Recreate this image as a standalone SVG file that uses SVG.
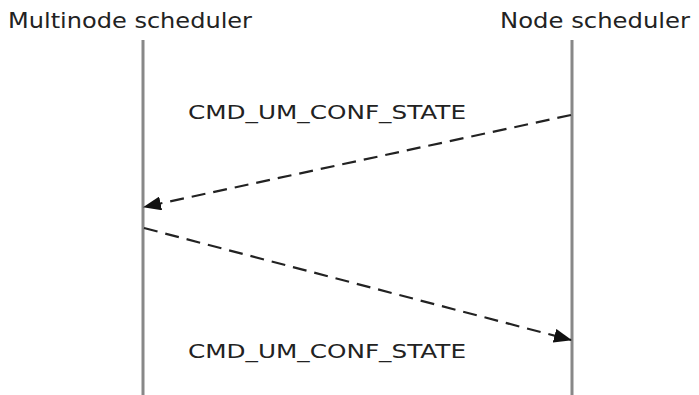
<svg xmlns="http://www.w3.org/2000/svg" width="699" height="395" viewBox="0 0 699 395">
  <defs>
    <marker id="arrow" markerWidth="18" markerHeight="14" refX="17" refY="7" orient="auto" markerUnits="userSpaceOnUse">
      <path d="M0,0 L18,7 L0,14 Z" fill="#111"/>
    </marker>
  </defs>
  <style>
    .label { font-family: "DejaVu Sans", Verdana, sans-serif; font-size: 21px; fill: #222; }
    .msg-label { font-size: 20px; }
    .lifeline { stroke: #888; stroke-width: 3; }
    .msg { stroke: #222; stroke-width: 2.2; stroke-dasharray: 14 8; fill: none; }
  </style>
  <rect width="699" height="395" fill="#fff"/>
  <g id="multinode-scheduler">
    <text class="label" x="8" y="28" textLength="244" lengthAdjust="spacingAndGlyphs">Multinode scheduler</text>
    <line class="lifeline" x1="143" y1="40" x2="143" y2="395"/>
  </g>
  <g id="node-scheduler">
    <text class="label" x="500" y="28" textLength="190" lengthAdjust="spacingAndGlyphs">Node scheduler</text>
    <line class="lifeline" x1="572" y1="40" x2="572" y2="395"/>
  </g>
  <g id="connectors">
    <line class="msg" x1="571" y1="115" x2="144" y2="207" marker-end="url(#arrow)"/>
    <text class="label msg-label" x="188" y="119" textLength="278" lengthAdjust="spacingAndGlyphs">CMD_UM_CONF_STATE</text>
    <line class="msg" x1="144" y1="228" x2="571" y2="340" marker-end="url(#arrow)"/>
    <text class="label msg-label" x="188" y="358" textLength="278" lengthAdjust="spacingAndGlyphs">CMD_UM_CONF_STATE</text>
  </g>
</svg>
